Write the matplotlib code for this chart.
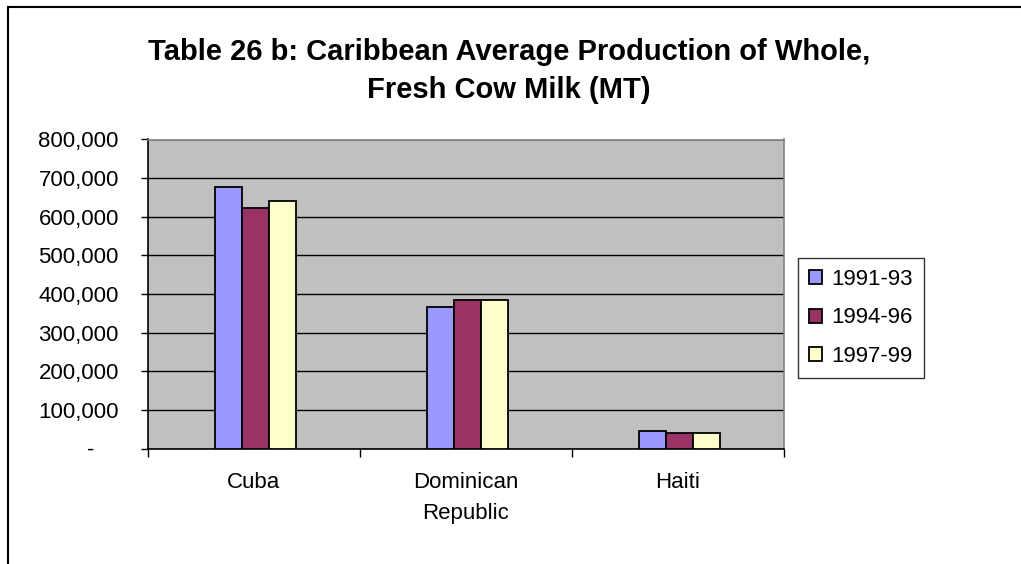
import matplotlib
matplotlib.use("Agg")
import matplotlib.pyplot as plt
from matplotlib.lines import Line2D
from matplotlib.ticker import FuncFormatter
import numpy as np

plt.rcParams['font.family'] = ['Liberation Sans', 'DejaVu Sans']

categories = ["Cuba", "Dominican\nRepublic", "Haiti"]
series_names = ["1991-93", "1994-96", "1997-99"]
v_1991_93 = [678000, 366000, 44500]
v_1994_96 = [623500, 385500, 39500]
v_1997_99 = [640000, 385000, 39500]
series_values = [v_1991_93, v_1994_96, v_1997_99]
colors = ["#9999FF", "#993366", "#FFFFCC"]
yticks = list(range(0, 800001, 100000))

W, H = 1021, 564
fig = plt.figure(figsize=(W / 100, H / 100), dpi=100)
fig.patch.set_facecolor("white")

ax = fig.add_axes([148 / W, 1 - 448.5 / H, (784 - 148) / W, (448.5 - 139.5) / H])
ax.set_facecolor("#C0C0C0")

x = np.arange(len(categories))
bw = 0.128
for i, (name, vals, c) in enumerate(zip(series_names, series_values, colors)):
    ax.bar(x + (i - 1) * bw + 0.007, vals, width=bw, color=c, edgecolor="black",
           linewidth=1.3, label=name, zorder=3)

ax.set_xlim(-0.5, len(categories) - 0.5)
ax.set_ylim(0, 800000)
ax.set_yticks(yticks)
ax.yaxis.set_major_formatter(FuncFormatter(lambda v, p: "-    " if v == 0 else f"{int(v):,}"))
ax.grid(axis="y", color="black", linewidth=1.0, zorder=1)
ax.set_axisbelow(True)

ax.set_xticks(np.arange(-0.5, len(categories), 1.0))
ax.set_xticklabels([])
ax.set_xticks(x, minor=True)
ax.set_xticklabels(categories, minor=True, fontsize=16, linespacing=1.6)
ax.tick_params(axis="x", which="minor", length=0, pad=17)
ax.tick_params(axis="x", which="major", length=6, width=1, direction="out", color="black")
ax.tick_params(axis="y", length=5, width=1, direction="out", labelsize=16, pad=16, color="black")

for s in ["left", "bottom"]:
    ax.spines[s].set_color("black")
    ax.spines[s].set_linewidth(1.2)
for s in ["top", "right"]:
    ax.spines[s].set_color("#808080")
    ax.spines[s].set_linewidth(1.2)

leg = fig.legend(loc="upper left", bbox_to_anchor=(798 / W, 1 - 258 / H),
                 bbox_transform=fig.transFigure, fontsize=16, frameon=True,
                 fancybox=False, borderaxespad=0, handlelength=0.6, handleheight=0.6,
                 handletextpad=0.4, labelspacing=0.78, borderpad=0.5)
leg.get_frame().set_edgecolor("black")
leg.get_frame().set_linewidth(1.0)

fig.text(509 / W, 1 - 71 / H,
         "Table 26 b: Caribbean Average Production of Whole,\nFresh Cow Milk (MT)",
         ha="center", va="center", fontsize=21, fontweight="bold", linespacing=1.42)

fig.add_artist(Line2D([8 / W, 8 / W], [0, 1 - 7 / H], transform=fig.transFigure,
                      color="black", linewidth=1.5))
fig.add_artist(Line2D([8 / W, 1], [1 - 7 / H, 1 - 7 / H], transform=fig.transFigure,
                      color="black", linewidth=1.5))

fig.savefig("out.png", dpi=100)
